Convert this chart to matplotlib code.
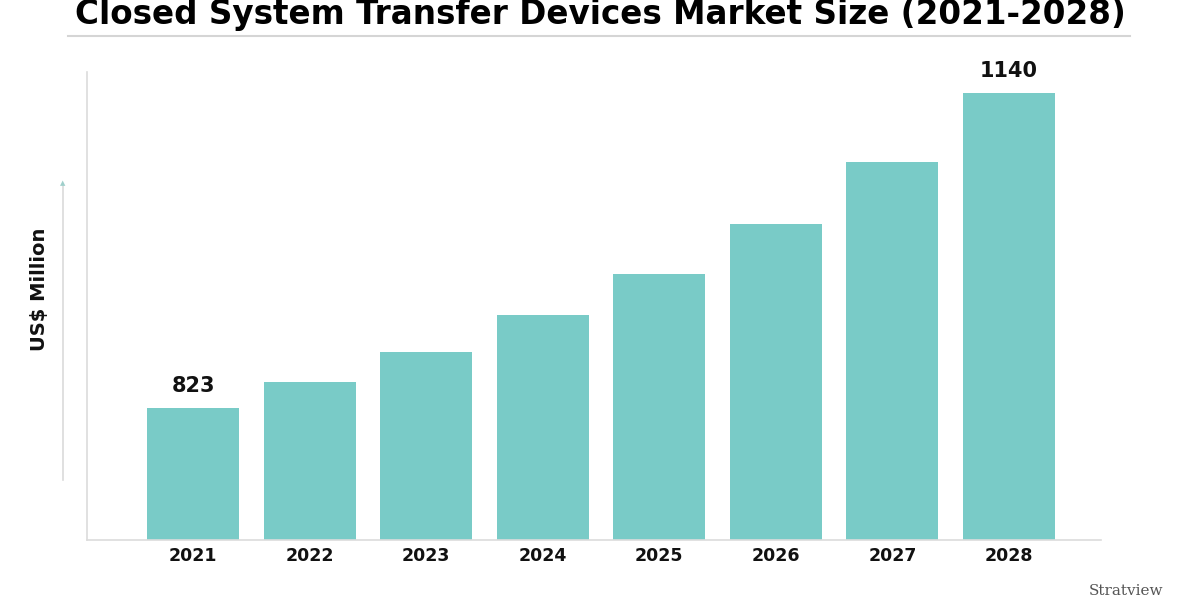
import numpy as np
import matplotlib.pyplot as plt

years = ['2021', '2022', '2023', '2024', '2025', '2026', '2027', '2028']
values = [823, 849, 879, 916, 958, 1008, 1070, 1140]
shown = {0: '823', 7: '1140'}

bar_color = '#79CBC7'
line_color = '#DCDCDC'

fig = plt.figure(figsize=(12, 6), dpi=100)
ax = fig.add_axes([0.0725, 0.1, 0.845, 0.78])

x = np.arange(len(years))
ax.bar(x, values, width=0.79, color=bar_color, zorder=2)

ax.set_xlim(-0.91, 7.79)
ax.set_ylim(690, 1161)

for i, lbl in shown.items():
    ax.text(x[i], values[i] + 12, lbl, ha='center', va='bottom',
            fontsize=15, fontweight='bold', color='#111111')

ax.set_xticks(x)
ax.set_xticklabels(years, fontsize=12.5, fontweight='bold', color='#111111')
ax.tick_params(axis='x', length=0, pad=5)
ax.set_yticks([])

for s in ['top', 'right']:
    ax.spines[s].set_visible(False)
ax.spines['left'].set_color(line_color)
ax.spines['bottom'].set_color(line_color)
ax.spines['left'].set_linewidth(1.2)
ax.spines['bottom'].set_linewidth(1.2)

# title and the grey rule under it
fig.text(0.5, 0.96, 'Closed System Transfer Devices Market Size (2021-2028)',
         ha='center', va='baseline', fontsize=23.5, fontweight='bold', color='#000000')
fig.add_artist(plt.Line2D([0.057, 0.942], [0.94, 0.94], color='#D5D5D5', lw=1.5))

# y label with arrow
fig.add_artist(plt.Line2D([0.0525, 0.0525], [0.2, 0.69], color='#DADADA', lw=1.2))
fig.text(0.0525, 0.695, '\u25B2', ha='center', va='center', fontsize=5, color='#9FCFCB')
fig.text(0.033, 0.517, 'US$ Million', rotation=90, ha='center', va='center',
         fontsize=14, fontweight='bold', color='#111111')

# logo text
fig.text(0.938, 0.004, 'Stratview', ha='center', va='bottom', fontsize=11,
         family='DejaVu Serif', color='#555555')

fig.savefig('out.png', dpi=100)
